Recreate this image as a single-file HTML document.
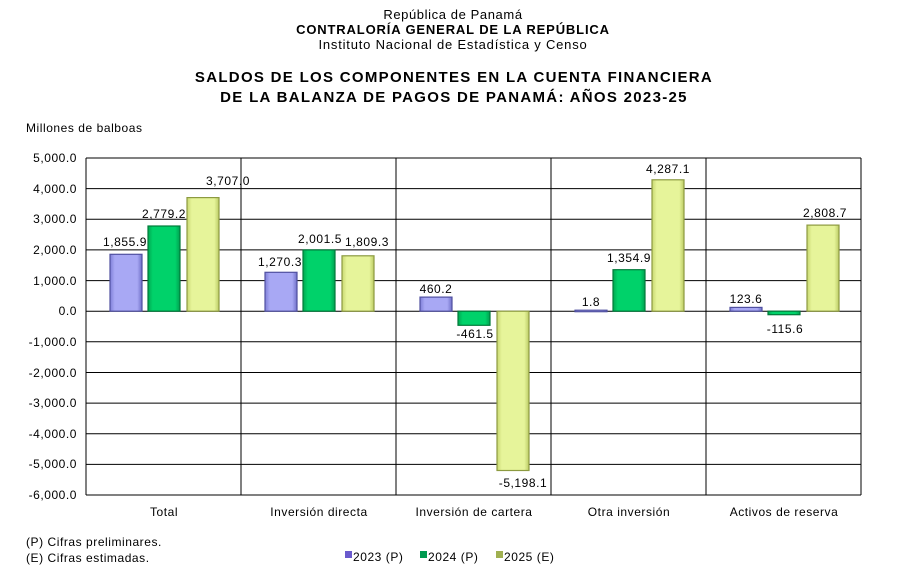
<!DOCTYPE html><html><head><style>body{margin:0;background:#fff}svg{display:block;font-family:"Liberation Sans",Arial,sans-serif;letter-spacing:0.55px}</style></head><body>
<svg width="898" height="585" viewBox="0 0 898 585">
<defs>
<linearGradient id="gp" x1="0" x2="1"><stop offset="0" stop-color="#7f7fd8"/><stop offset=".15" stop-color="#a8a8f4"/><stop offset=".85" stop-color="#a8a8f4"/><stop offset="1" stop-color="#7070c8"/></linearGradient>
<linearGradient id="gg" x1="0" x2="1"><stop offset="0" stop-color="#00a850"/><stop offset=".15" stop-color="#00d26a"/><stop offset=".85" stop-color="#00d26a"/><stop offset="1" stop-color="#00a050"/></linearGradient>
<linearGradient id="gy" x1="0" x2="1"><stop offset="0" stop-color="#c8d870"/><stop offset=".15" stop-color="#e6f49a"/><stop offset=".85" stop-color="#e6f49a"/><stop offset="1" stop-color="#bccc66"/></linearGradient>
</defs>
<g text-anchor="middle" fill="#000">
<text x="453" y="19" font-size="13" letter-spacing="0.6">República de Panamá</text>
<text x="453" y="34" font-size="13" font-weight="bold" letter-spacing="0.85">CONTRALORÍA GENERAL DE LA REPÚBLICA</text>
<text x="453" y="49" font-size="13" letter-spacing="0.8">Instituto Nacional de Estadística y Censo</text>
<text x="454" y="82" font-size="15" font-weight="bold" letter-spacing="1.3">SALDOS DE LOS COMPONENTES EN LA CUENTA FINANCIERA</text>
<text x="454" y="102" font-size="15" font-weight="bold" letter-spacing="1.3">DE LA BALANZA DE PAGOS DE PANAMÁ: AÑOS 2023-25</text>
</g>
<text x="26" y="132" font-size="12">Millones de balboas</text>
<g stroke="#000" stroke-width="1">
<line x1="86" y1="158" x2="861" y2="158"/><line x1="86" y1="188.6" x2="861" y2="188.6"/><line x1="86" y1="219.3" x2="861" y2="219.3"/><line x1="86" y1="249.9" x2="861" y2="249.9"/><line x1="86" y1="280.6" x2="861" y2="280.6"/><line x1="86" y1="311.2" x2="861" y2="311.2"/><line x1="86" y1="341.8" x2="861" y2="341.8"/><line x1="86" y1="372.5" x2="861" y2="372.5"/><line x1="86" y1="403.1" x2="861" y2="403.1"/><line x1="86" y1="433.8" x2="861" y2="433.8"/><line x1="86" y1="464.4" x2="861" y2="464.4"/><line x1="86" y1="495" x2="861" y2="495"/>
<line x1="86" y1="158" x2="86" y2="495"/><line x1="241" y1="158" x2="241" y2="495"/><line x1="396" y1="158" x2="396" y2="495"/><line x1="551" y1="158" x2="551" y2="495"/><line x1="706" y1="158" x2="706" y2="495"/><line x1="861" y1="158" x2="861" y2="495"/>
</g>
<g font-size="12" text-anchor="end">
<text x="77" y="162">5,000.0</text><text x="77" y="193">4,000.0</text><text x="77" y="223">3,000.0</text><text x="77" y="254">2,000.0</text><text x="77" y="285">1,000.0</text><text x="77" y="315">0.0</text><text x="77" y="346">-1,000.0</text><text x="77" y="377">-2,000.0</text><text x="77" y="407">-3,000.0</text><text x="77" y="438">-4,000.0</text><text x="77" y="468">-5,000.0</text><text x="77" y="499">-6,000.0</text>
</g>
<g stroke-width="1.2">
<rect x="110" y="254.3" width="32" height="56.9" fill="url(#gp)" stroke="#5050a0"/>
<rect x="148" y="226.0" width="32" height="85.2" fill="url(#gg)" stroke="#007a3a"/>
<rect x="187" y="197.6" width="32" height="113.6" fill="url(#gy)" stroke="#8c9a40"/>
<rect x="265" y="272.3" width="32" height="38.9" fill="url(#gp)" stroke="#5050a0"/>
<rect x="303" y="249.9" width="32" height="61.3" fill="url(#gg)" stroke="#007a3a"/>
<rect x="342" y="255.8" width="32" height="55.4" fill="url(#gy)" stroke="#8c9a40"/>
<rect x="420" y="297.1" width="32" height="14.1" fill="url(#gp)" stroke="#5050a0"/>
<rect x="458" y="311.2" width="32" height="14.1" fill="url(#gg)" stroke="#007a3a"/>
<rect x="497" y="311.2" width="32" height="159.3" fill="url(#gy)" stroke="#8c9a40"/>
<rect x="575" y="310.2" width="32" height="1.5" fill="url(#gp)" stroke="#5050a0"/>
<rect x="613" y="269.7" width="32" height="41.5" fill="url(#gg)" stroke="#007a3a"/>
<rect x="652" y="179.8" width="32" height="131.4" fill="url(#gy)" stroke="#8c9a40"/>
<rect x="730" y="307.4" width="32" height="3.8" fill="url(#gp)" stroke="#5050a0"/>
<rect x="768" y="311.2" width="32" height="3.5" fill="url(#gg)" stroke="#007a3a"/>
<rect x="807" y="225.1" width="32" height="86.1" fill="url(#gy)" stroke="#8c9a40"/>
</g>
<g font-size="12" text-anchor="middle">
<text x="125" y="246">1,855.9</text><text x="164" y="218">2,779.2</text><text x="228" y="185">3,707.0</text>
<text x="280" y="266">1,270.3</text><text x="320" y="243">2,001.5</text><text x="367" y="246">1,809.3</text>
<text x="436" y="293">460.2</text><text x="475" y="338">-461.5</text><text x="523" y="487">-5,198.1</text>
<text x="591" y="306">1.8</text><text x="629" y="262">1,354.9</text><text x="668" y="173">4,287.1</text>
<text x="746" y="303">123.6</text><text x="785" y="333">-115.6</text><text x="825" y="217">2,808.7</text>
</g>
<g font-size="12" text-anchor="middle">
<text x="164" y="516">Total</text><text x="319" y="516">Inversión directa</text><text x="474" y="516">Inversión de cartera</text><text x="629" y="516">Otra inversión</text><text x="784" y="516">Activos de reserva</text>
</g>
<text x="26" y="546" font-size="12">(P) Cifras preliminares.</text>
<text x="26" y="562" font-size="12">(E) Cifras estimadas.</text>
<rect x="345" y="551" width="7" height="7" fill="#6a5acd"/>
<text x="353" y="561" font-size="12">2023 (P)</text>
<rect x="420" y="551" width="7" height="7" fill="#009a50"/>
<text x="428" y="561" font-size="12">2024 (P)</text>
<rect x="496" y="551" width="7" height="7" fill="#a0b050"/>
<text x="504" y="561" font-size="12">2025 (E)</text>
</svg></body></html>
